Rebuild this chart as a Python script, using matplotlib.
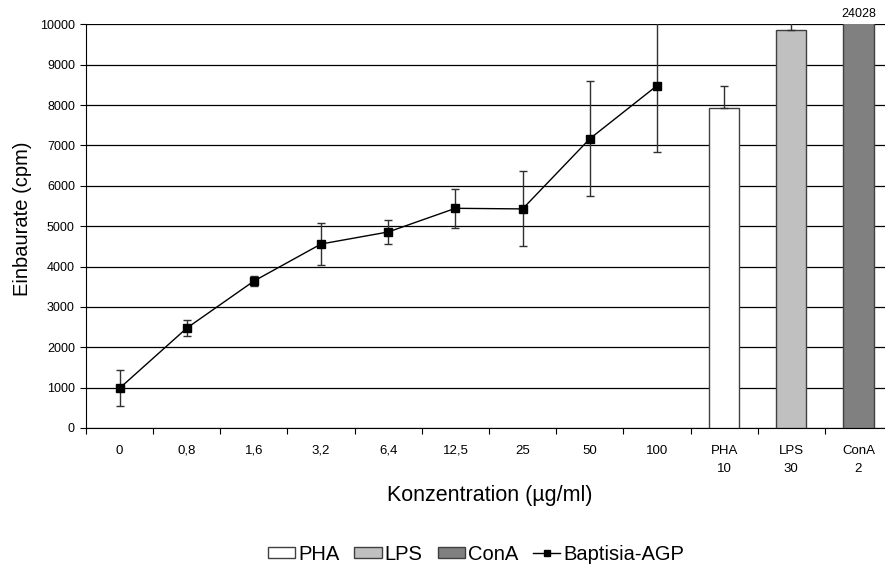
import matplotlib
matplotlib.use("Agg")
import matplotlib.pyplot as plt
import numpy as np
from matplotlib.patches import Patch
from matplotlib.lines import Line2D

plt.rcParams['font.family'] = ['Liberation Sans', 'DejaVu Sans']

categories = ["0", "0,8", "1,6", "3,2", "6,4", "12,5", "25", "50", "100",
              "PHA\n10", "LPS\n30", "ConA\n2"]
agp_values = [985, 2474, 3640, 4558, 4856, 5442, 5427, 7164, 8479]
agp_errors = [442, 195, 128, 521, 300, 480, 930, 1423, 1638]
control_names = ["PHA", "LPS", "ConA"]
control_values = [7933, 9851, 24028]
control_errors = [536, 400, 0]
control_colors = ["#ffffff", "#c0c0c0", "#808080"]
yticks = list(range(0, 10001, 1000))

W, H = 885, 572
fig = plt.figure(figsize=(W / 100, H / 100), dpi=100)
ax = fig.add_axes([86 / W, 1 - 428 / H, (892 - 86) / W, (428 - 24.3) / H])

n_agp = len(agp_values)
x_agp = np.arange(n_agp)
x_ctrl = np.arange(n_agp, n_agp + len(control_values))

for xi, v, e, c in zip(x_ctrl, control_values, control_errors, control_colors):
    ax.bar(xi, v, width=0.45, color=c, edgecolor="#404040", linewidth=1.0, zorder=3)
    if e > 0:
        ax.errorbar(xi, v, yerr=[[0], [e]], fmt="none", ecolor="#303030",
                    elinewidth=1.0, capsize=3, capthick=1.0, zorder=4)

ax.errorbar(x_agp, agp_values, yerr=agp_errors, fmt="none", ecolor="#303030",
            elinewidth=1.0, capsize=3, capthick=1.0, zorder=4)
ax.plot(x_agp, agp_values, color="black", linewidth=1.0, marker="s",
        markersize=5.5, zorder=5)

ax.set_xlim(-0.5, len(categories) - 0.5)
ax.set_ylim(0, 10000)
ax.set_yticks(yticks)
ax.set_yticklabels([str(t) for t in yticks], fontsize=9)
ax.yaxis.grid(True, color="black", linewidth=0.9)
ax.set_axisbelow(True)

# category labels between boundary ticks
ax.set_xticks(np.arange(len(categories) + 1) - 0.5)
ax.set_xticklabels([])
ax.set_xticks(np.arange(len(categories)), minor=True)
ax.set_xticklabels(categories, minor=True, fontsize=9.5, linespacing=1.75)
ax.tick_params(axis="x", which="minor", length=0, pad=12)
ax.tick_params(axis="x", which="major", length=4, direction="out", color="black")
ax.tick_params(axis="y", length=4, direction="out", pad=4)

for s in ["top", "right"]:
    ax.spines[s].set_visible(False)
ax.spines["left"].set_color("black")
ax.spines["bottom"].set_color("black")

ax.text(x_ctrl[-1], 10000 + 100, str(control_values[-1]), ha="center",
        va="bottom", fontsize=9)

fig.text(23 / W, 1 - 219 / H, "Einbaurate (cpm)", ha="center", va="center",
         rotation=90, fontsize=14.5)
fig.text(490 / W, 1 - 495 / H, "Konzentration (µg/ml)", ha="center",
         va="center", fontsize=15.5)

handles = [Patch(facecolor=c, edgecolor="#404040", label=n)
           for n, c in zip(control_names, control_colors)]
handles.append(Line2D([0], [0], color="black", marker="s", markersize=4,
                      linewidth=1.0, label="Baptisia-AGP"))
fig.legend(handles=handles, loc="center", bbox_to_anchor=(476 / W, 1 - 554 / H),
           ncol=4, frameon=False, fontsize=14.5, handlelength=1.35,
           handletextpad=0.15, columnspacing=0.75, handleheight=0.5)

fig.savefig("out.png", dpi=100)
